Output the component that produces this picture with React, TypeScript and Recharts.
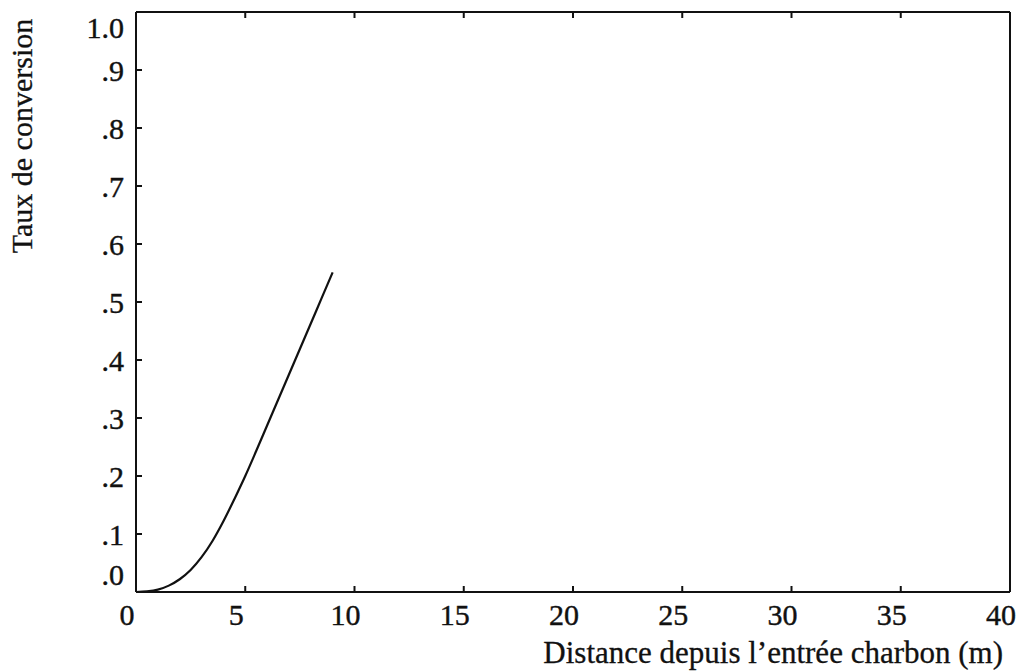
import React from "react";
import { LineChart, Line, XAxis, YAxis } from "recharts";

// distance depuis l'entrée charbon (m)
const distances = [0, 0.5, 1, 1.5, 2, 2.5, 3, 3.5, 4, 4.5, 5, 5.5, 6, 6.5, 7, 7.5, 8, 8.5, 9];
// taux de conversion
const conversion = [
  0, 0.001, 0.004, 0.011, 0.022, 0.038, 0.06, 0.088, 0.122, 0.16, 0.2, 0.243,
  0.287, 0.331, 0.375, 0.419, 0.463, 0.507, 0.551,
];

const xTicks = [0, 5, 10, 15, 20, 25, 30, 35, 40];
const yTicks = [0, 0.1, 0.2, 0.3, 0.4, 0.5, 0.6, 0.7, 0.8, 0.9, 1];

const xTitle = "Distance depuis l\u2019entrée charbon (m)";
const yTitle = "Taux de conversion";

const data = distances.map((d, i) => ({ d, taux: conversion[i] }));

const FONT = "'Liberation Serif', 'Times New Roman', serif";
const INK = "#111";

const fmtY = (v: number) => (v >= 1 ? "1.0" : "." + Math.round(v * 10));

const BottomTick = (props: any) => {
  const { x, y, payload } = props;
  const v = payload.value;
  const inner = v !== 0 && v !== 40;
  return (
    <g>
      {inner && <line x1={x} y1={y} x2={x} y2={y - 6} stroke={INK} strokeWidth={2} />}
      <text
        x={x - 9}
        y={y + 33}
        textAnchor="middle"
        fontFamily={FONT}
        fontSize={30}
        fill={INK}
        stroke={INK}
        strokeWidth={0.4}
      >
        {v}
      </text>
    </g>
  );
};

const TopTick = (props: any) => {
  const { x, y, payload } = props;
  const v = payload.value;
  if (v === 0 || v === 40) return <g />;
  return <line x1={x} y1={y} x2={x} y2={y + 6} stroke={INK} strokeWidth={2} />;
};

const LeftTick = (props: any) => {
  const { x, y, payload } = props;
  const v = payload.value;
  const inner = v > 0 && v < 1;
  let dy = 0;
  if (v === 0) dy = -18;
  if (v >= 1) dy = 15;
  return (
    <g>
      {inner && <line x1={x + 12} y1={y} x2={x + 18} y2={y} stroke={INK} strokeWidth={2} />}
      <text
        x={x}
        y={y + dy}
        dy="0.35em"
        textAnchor="end"
        fontFamily={FONT}
        fontSize={30}
        fill={INK}
        stroke={INK}
        strokeWidth={0.4}
      >
        {fmtY(v)}
      </text>
    </g>
  );
};

const RightTick = (props: any) => {
  const { x, y, payload } = props;
  const v = payload.value;
  if (v <= 0 || v >= 1) return <g />;
  return <line x1={x} y1={y} x2={x - 6} y2={y} stroke={INK} strokeWidth={2} />;
};

export default function App() {
  return (
    <div style={{ position: "absolute", left: 0, top: 0, width: 1019, height: 672, background: "#fff" }}>
      <LineChart
        width={1019}
        height={672}
        data={data}
        margin={{ top: 11, right: 8, bottom: 0, left: 0 }}
      >
        <XAxis
          dataKey="d"
          type="number"
          domain={[0, 40]}
          ticks={xTicks}
          interval={0}
          height={80}
          tickSize={0}
          tickMargin={0}
          tickLine={false}
          axisLine={{ stroke: INK, strokeWidth: 2 }}
          tick={<BottomTick />}
          label={{
            content: () => (
              <text
                x={1003}
                y={663}
                textAnchor="end"
                fontFamily={FONT}
                fontSize={31}
                fill={INK}
                stroke={INK}
                strokeWidth={0.3}
              >
                {xTitle}
              </text>
            ),
          }}
        />
        <XAxis
          xAxisId="top"
          dataKey="d"
          type="number"
          orientation="top"
          domain={[0, 40]}
          ticks={xTicks}
          interval={0}
          height={1}
          tickSize={0}
          tickMargin={0}
          tickLine={false}
          axisLine={{ stroke: INK, strokeWidth: 2 }}
          tick={<TopTick />}
        />
        <YAxis
          type="number"
          domain={[0, 1]}
          ticks={yTicks}
          interval={0}
          width={136}
          tickSize={0}
          tickMargin={12}
          tickLine={false}
          axisLine={{ stroke: INK, strokeWidth: 2 }}
          tick={<LeftTick />}
          label={{
            content: () => (
              <text
                x={32}
                y={136}
                transform="rotate(-90, 32, 136)"
                textAnchor="middle"
                fontFamily={FONT}
                fontSize={30}
                fill={INK}
                stroke={INK}
                strokeWidth={0.3}
              >
                {yTitle}
              </text>
            ),
          }}
        />
        <YAxis
          yAxisId="right"
          orientation="right"
          type="number"
          domain={[0, 1]}
          ticks={yTicks}
          interval={0}
          width={1}
          tickSize={0}
          tickMargin={0}
          tickLine={false}
          axisLine={{ stroke: INK, strokeWidth: 2 }}
          tick={<RightTick />}
        />
        <Line
          type="monotone"
          dataKey="taux"
          stroke={INK}
          strokeWidth={2.2}
          dot={false}
          isAnimationActive={false}
        />
      </LineChart>
    </div>
  );
}
